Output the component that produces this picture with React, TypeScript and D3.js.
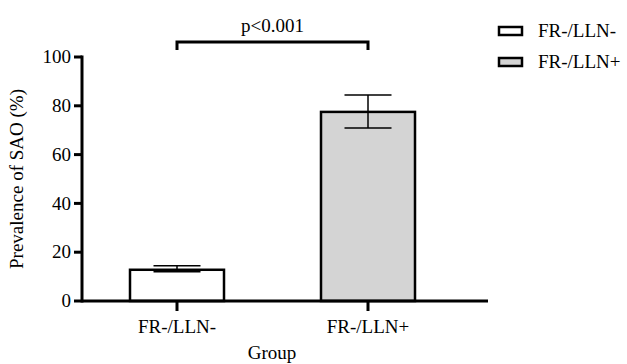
import React from 'react';
import * as d3 from 'd3';

const categories = ['FR-/LLN-', 'FR-/LLN+'];
const means = [12.8, 77.5];
const errUpper = [14.4, 84.4];
const errLower = [12.0, 70.9];
const fills = ['#ffffff', '#d4d4d4'];
const yTicks = [0, 20, 40, 60, 80, 100];
const pLabel = 'p<0.001';

const W = 627;
const H = 364;
const FONT = 'Liberation Serif';

const axisLeft = 82;
const axisRight = 488;
const y = d3.scaleLinear().domain([0, 100]).range([301, 57]);
const x = d3.scalePoint<string>().domain(categories).range([177, 368]);
const barW = 94;
const capW = 47;

const txt = { fontFamily: FONT, fontSize: 19, fill: '#000' };

const App: React.FC = () => {
  const x1 = x(categories[0]) as number;
  const x2 = x(categories[1]) as number;
  return (
    <svg width={W} height={H} style={{ position: 'absolute', left: 0, top: 0, background: '#fff' }}>
      {/* Bars */}
      {categories.map((c, i) => (
        <rect
          key={c}
          x={(x(c) as number) - barW / 2}
          y={y(means[i])}
          width={barW}
          height={y(0) - y(means[i])}
          fill={fills[i]}
          stroke="#000"
          strokeWidth={2.5}
        />
      ))}

      {/* Error bars */}
      {categories.map((c, i) => {
        const cx = x(c) as number;
        return (
          <g key={c} stroke="#000" strokeWidth={1.5}>
            <line x1={cx} x2={cx} y1={y(errUpper[i])} y2={y(errLower[i])} />
            {[errUpper[i], errLower[i]].map((v, j) => (
              <line key={j} x1={cx - capW / 2} x2={cx + capW / 2} y1={y(v)} y2={y(v)} />
            ))}
          </g>
        );
      })}

      {/* Y axis */}
      <line x1={axisLeft} x2={axisLeft} y1={y(100) - 1.5} y2={y(0) + 1.5} stroke="#000" strokeWidth={3} />
      {yTicks.map(t => (
        <g key={t}>
          <line x1={axisLeft - 8} x2={axisLeft} y1={y(t)} y2={y(t)} stroke="#000" strokeWidth={3} />
          <text x={axisLeft - 11} y={y(t)} dy="0.33em" textAnchor="end" style={txt}>
            {t}
          </text>
        </g>
      ))}

      {/* X axis */}
      <line x1={axisLeft} x2={axisRight} y1={y(0)} y2={y(0)} stroke="#000" strokeWidth={3} />
      {categories.map(c => {
        const cx = x(c) as number;
        return (
          <g key={c}>
            <line x1={cx} x2={cx} y1={y(0)} y2={y(0) + 10} stroke="#000" strokeWidth={3} />
            <text x={cx} y={333} textAnchor="middle" style={txt}>
              {c}
            </text>
          </g>
        );
      })}

      {/* Axis titles */}
      <text x={272} y={359} textAnchor="middle" style={txt}>
        Group
      </text>
      <text transform={`translate(23,${y(50)}) rotate(-90)`} textAnchor="middle" style={txt}>
        Prevalence of SAO (%)
      </text>

      {/* Significance bracket */}
      <path d={`M${x1},50 V42 H${x2} V50`} fill="none" stroke="#000" strokeWidth={3} />
      <text x={(x1 + x2) / 2} y={32} textAnchor="middle" style={txt}>
        {pLabel}
      </text>

      {/* Legend */}
      {categories.map((c, i) => {
        const ly = 31 + i * 31;
        return (
          <g key={c}>
            <rect x={499} y={ly - 4} width={23} height={8} fill={fills[i]} stroke="#000" strokeWidth={2.5} />
            <text x={538} y={ly + 6} style={txt}>
              {c}
            </text>
          </g>
        );
      })}
    </svg>
  );
};

export default App;
